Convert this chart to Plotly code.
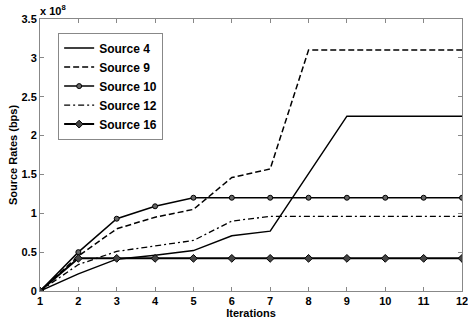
import plotly.graph_objects as go

iterations = [1, 2, 3, 4, 5, 6, 7, 8, 9, 10, 11, 12]
source4 = [0, 0.22, 0.41, 0.46, 0.52, 0.71, 0.77, 1.51, 2.25, 2.25, 2.25, 2.25]
source9 = [0, 0.45, 0.80, 0.95, 1.05, 1.46, 1.57, 3.10, 3.10, 3.10, 3.10, 3.10]
source10 = [0, 0.50, 0.93, 1.09, 1.20, 1.20, 1.20, 1.20, 1.20, 1.20, 1.20, 1.20]
source12 = [0, 0.34, 0.51, 0.58, 0.65, 0.90, 0.96, 0.96, 0.96, 0.96, 0.96, 0.96]
source16 = [0, 0.42, 0.42, 0.42, 0.42, 0.42, 0.42, 0.42, 0.42, 0.42, 0.42, 0.42]
scale = 1e8
ytick_vals = [0, 0.5, 1, 1.5, 2, 2.5, 3, 3.5]
ytick_text = ["0", "0.5", "1", "1.5", "2", "2.5", "3", "3.5"]

font = dict(family="Liberation Sans, Arial, sans-serif", size=11, color="black", weight="bold")
legend_font = dict(family="Liberation Sans, Arial, sans-serif", size=12, color="black", weight="bold")

fig = go.Figure()
fig.add_trace(go.Scatter(x=iterations, y=[v * scale for v in source4], name="Source 4",
                         mode="lines", line=dict(color="black", width=1.5)))
fig.add_trace(go.Scatter(x=iterations, y=[v * scale for v in source9], name="Source 9",
                         mode="lines", line=dict(color="black", width=1.5, dash="6px,3px")))
fig.add_trace(go.Scatter(x=iterations, y=[v * scale for v in source10], name="Source 10",
                         mode="lines+markers", line=dict(color="black", width=1.5),
                         marker=dict(symbol="circle", size=5, color="#666666",
                                     line=dict(color="black", width=1))))
fig.add_trace(go.Scatter(x=iterations, y=[v * scale for v in source12], name="Source 12",
                         mode="lines", line=dict(color="black", width=1.3, dash="6px,3px,2px,3px")))
fig.add_trace(go.Scatter(x=iterations, y=[v * scale for v in source16], name="Source 16",
                         mode="lines+markers", line=dict(color="black", width=2),
                         marker=dict(symbol="diamond", size=6, color="#444444",
                                     line=dict(color="black", width=1))))

axis_common = dict(showline=True, linecolor="#888888", linewidth=1, mirror="ticks",
                   ticks="inside", ticklen=4, tickcolor="#888888", showgrid=False,
                   zeroline=False, tickfont=font, automargin=False)

fig.update_xaxes(range=[1, 12], tickvals=iterations, ticklabeloverflow="allow", **axis_common,
                 title=dict(text="Iterations", font=font, standoff=0))
fig.update_yaxes(range=[0, 3.5 * scale], tickvals=[v * scale for v in ytick_vals],
                 ticktext=ytick_text, **axis_common,
                 title=dict(text="Source Rates (bps)", font=font, standoff=1))

fig.add_annotation(text="x 10<sup>8</sup>", xref="paper", yref="paper", x=0, y=1,
                   xanchor="left", yanchor="bottom", showarrow=False, font=font,
                   xshift=-2, yshift=0)

fig.update_layout(
    width=468, height=322,
    margin=dict(l=40, r=6, t=19, b=31),
    plot_bgcolor="white", paper_bgcolor="white",
    showlegend=True,
    legend=dict(x=0.043, y=0.95, xanchor="left", yanchor="top",
                bgcolor="white", bordercolor="#888888", borderwidth=1,
                font=legend_font, tracegroupgap=0, itemwidth=30),
)

fig.write_html("out.html", config={"displayModeBar": False},
               post_script="document.body.style.margin='0';")
